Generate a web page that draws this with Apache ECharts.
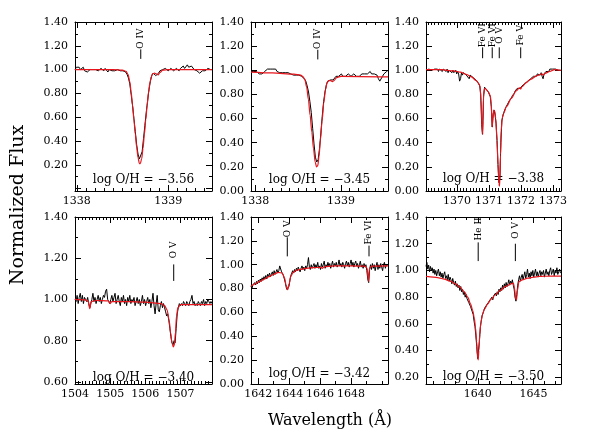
<!DOCTYPE html>
<html>
<head>
<meta charset="utf-8">
<title>O/H fits</title>
<script src="https://cdn.jsdelivr.net/npm/echarts@6/dist/echarts.min.js"></script>
<style>
  html, body { margin: 0; padding: 0; background: #fff; }
  #chart { width: 612px; height: 447px; }
</style>
</head>
<body>
<div id="chart"></div>
<script>
// ---- data ----
// observed spectra: first wavelength, pixel step, normalized flux
var p1ObsStart = 1337.98, p1ObsStep = 0.015;
var p1Obs = [1.00,1.02,1.01,1.02,1.00,1.01,1.02,0.99,1.00,0.98,
  0.99,1.00,1.01,1.00,1.01,1.00,1.01,0.99,1.00,1.01,
  1.00,0.99,1.01,1.00,0.98,1.00,1.01,0.99,1.00,0.99,
  0.98,1.00,0.99,0.99,0.98,0.99,0.99,0.98,0.96,0.93,
  0.88,0.79,0.70,0.59,0.48,0.37,0.29,0.25,0.26,0.31,
  0.42,0.53,0.64,0.74,0.83,0.90,0.95,0.97,0.96,0.95,
  0.96,0.97,0.99,0.99,1.00,1.00,1.01,1.00,0.99,1.00,
  1.01,1.00,0.99,1.00,1.01,1.00,0.99,1.01,1.02,1.03,
  1.01,1.02,1.04,1.02,1.01,1.03,1.02,1.00,1.01,0.99,
  0.98,0.97,0.98,0.99,1.00,0.99,1.00,1.01,1.00,1.00,
  1.00];
var p1Model = [[1337.98,1.00],[1338.40,1.00],[1338.50,0.995],[1338.54,0.985],[1338.56,0.96],
  [1338.58,0.90],[1338.595,0.81],[1338.61,0.70],[1338.625,0.58],[1338.64,0.46],[1338.655,0.35],
  [1338.67,0.26],[1338.685,0.21],[1338.695,0.21],[1338.71,0.25],[1338.725,0.34],[1338.74,0.46],
  [1338.755,0.58],[1338.77,0.70],[1338.785,0.81],[1338.80,0.89],[1338.815,0.94],[1338.83,0.965],
  [1338.85,0.97],[1338.87,0.965],[1338.89,0.955],[1338.91,0.975],[1338.94,0.995],[1339.0,1.00],[1339.48,1.00]];

var p2ObsStart = 1337.95, p2ObsStep = 0.016;
var p2Obs = [0.99,0.98,0.99,0.98,0.99,0.98,0.97,0.98,0.97,0.98,
  0.99,1.00,1.01,1.00,1.01,1.02,1.01,1.00,1.01,0.99,
  1.00,0.98,0.99,0.98,0.97,0.98,0.97,0.98,0.97,0.97,
  0.98,0.96,0.97,0.96,0.97,0.96,0.96,0.95,0.94,0.93,
  0.91,0.87,0.82,0.74,0.65,0.52,0.39,0.28,0.24,0.26,
  0.35,0.48,0.62,0.74,0.82,0.88,0.91,0.92,0.92,0.91,
  0.92,0.93,0.95,0.96,0.95,0.96,0.97,0.95,0.96,0.95,
  0.96,0.97,0.96,0.95,0.96,0.97,0.96,0.95,0.96,0.95,
  0.96,0.97,0.96,0.97,0.96,0.97,0.98,0.99,0.97,0.96,
  0.97,0.98,0.96,0.93,0.91,0.92,0.95,0.97,0.98,0.99,
  1.00];
var p2Model = [[1337.95,0.985],[1338.2,0.978],[1338.45,0.968],[1338.53,0.96],[1338.56,0.945],
  [1338.58,0.92],[1338.60,0.86],[1338.62,0.76],[1338.64,0.63],[1338.66,0.49],[1338.68,0.35],
  [1338.70,0.24],[1338.715,0.20],[1338.73,0.21],[1338.745,0.29],[1338.76,0.42],[1338.78,0.58],
  [1338.80,0.73],[1338.82,0.84],[1338.84,0.90],[1338.86,0.915],[1338.88,0.915],[1338.90,0.905],
  [1338.92,0.915],[1338.95,0.94],[1339.0,0.95],[1339.55,0.945]];

var p3ObsStart = 1369.03, p3ObsStep = 0.03;
var p3Obs = [1.00,1.01,0.99,1.01,1.00,1.02,1.00,1.01,0.99,1.01,
  1.02,1.00,1.01,0.99,1.01,1.02,1.00,0.99,1.01,1.00,
  1.02,0.99,1.01,0.98,1.00,0.99,1.01,0.98,1.00,0.98,
  0.99,1.00,0.97,0.99,0.97,0.91,0.93,0.98,0.96,0.98,
  0.97,0.99,0.96,0.97,0.95,0.93,0.96,0.95,0.96,0.94,
  0.95,0.93,0.92,0.91,0.90,0.89,0.87,0.80,0.55,0.47,
  0.78,0.86,0.85,0.84,0.83,0.82,0.80,0.78,0.70,0.53,
  0.64,0.67,0.63,0.56,0.42,0.22,0.07,0.10,0.40,0.58,
  0.62,0.65,0.66,0.69,0.70,0.72,0.73,0.75,0.76,0.77,
  0.79,0.80,0.81,0.83,0.82,0.85,0.84,0.86,0.85,0.84,
  0.87,0.88,0.87,0.89,0.90,0.89,0.91,0.92,0.91,0.93,
  0.92,0.94,0.95,0.94,0.96,0.95,0.97,0.96,0.98,0.96,
  0.98,0.95,0.93,0.97,0.98,0.99,0.98,1.00,0.99,1.01,
  1.00,1.02,1.01,1.00,1.02,1.01,1.00,1.01,1.00,0.99,
  1.00];
var p3Model = [[1369.03,1.005],[1369.5,1.005],[1369.9,0.995],[1370.1,0.985],[1370.3,0.965],
  [1370.45,0.945],[1370.6,0.915],[1370.68,0.89],[1370.72,0.87],[1370.75,0.75],[1370.79,0.47],
  [1370.81,0.58],[1370.83,0.80],[1370.86,0.85],[1370.9,0.845],[1370.98,0.82],[1371.04,0.79],
  [1371.07,0.72],[1371.10,0.53],[1371.12,0.60],[1371.15,0.67],[1371.18,0.66],[1371.21,0.60],
  [1371.25,0.42],[1371.28,0.22],[1371.31,0.06],[1371.325,0.04],[1371.34,0.10],[1371.36,0.30],
  [1371.38,0.50],[1371.41,0.60],[1371.45,0.64],[1371.55,0.70],[1371.7,0.77],[1371.85,0.83],
  [1371.95,0.855],[1371.99,0.845],[1372.03,0.865],[1372.15,0.895],[1372.3,0.925],[1372.5,0.955],
  [1372.65,0.97],[1372.7,0.96],[1372.75,0.975],[1372.9,0.99],[1373.05,1.005],[1373.25,1.00]];

var p4ObsStart = 1504.0, p4ObsStep = 0.03;
var p4Obs = [1.00,0.99,1.02,0.98,1.01,1.03,0.99,1.02,0.98,1.01,
  1.00,0.99,1.01,0.98,0.96,0.98,1.00,1.03,0.99,1.01,
  0.98,1.00,1.02,0.99,1.01,0.98,1.00,1.02,1.01,1.04,
  1.05,1.00,0.99,0.98,1.00,1.02,0.99,1.01,1.03,0.98,
  1.00,1.02,0.99,0.97,1.01,0.99,1.02,0.98,1.00,0.97,
  1.01,0.99,1.02,0.98,1.00,0.99,1.01,0.97,0.99,1.01,
  0.98,1.00,0.97,0.99,1.02,0.98,1.00,0.97,0.99,1.01,
  0.98,1.00,0.96,0.99,1.03,0.97,0.93,0.98,1.02,0.95,
  0.94,0.97,0.99,0.96,0.98,0.96,0.94,0.92,0.93,0.90,
  0.86,0.82,0.79,0.78,0.80,0.79,0.86,0.93,0.96,0.98,
  0.97,0.98,0.97,0.99,0.98,0.97,0.99,0.98,0.97,0.99,
  1.00,1.02,0.98,0.99,0.97,0.98,0.97,0.99,0.98,0.97,
  0.99,0.98,1.00,0.97,0.99,0.98,1.00,0.99,0.98,0.99,
  0.98];
var p4Model = [[1504.0,1.00],[1504.3,0.998],[1504.38,0.99],[1504.42,0.955],[1504.46,0.99],
  [1504.6,0.995],[1504.95,0.993],[1505.0,0.98],[1505.05,0.99],[1505.5,0.99],[1506.0,0.987],
  [1506.45,0.98],[1506.55,0.97],[1506.62,0.95],[1506.68,0.90],[1506.72,0.84],[1506.76,0.79],
  [1506.80,0.77],[1506.83,0.78],[1506.86,0.84],[1506.89,0.92],[1506.93,0.96],[1507.0,0.975],
  [1507.9,0.975]];

var p5ObsStart = 1641.53, p5ObsStep = 0.06;
var p5Obs = [0.82,0.80,0.83,0.82,0.85,0.83,0.86,0.84,0.87,0.85,
  0.88,0.86,0.89,0.87,0.90,0.88,0.91,0.88,0.92,0.90,
  0.93,0.90,0.92,0.94,0.91,0.95,0.92,0.94,0.96,0.93,
  0.95,0.99,1.00,0.94,0.93,0.91,0.88,0.85,0.81,0.79,
  0.78,0.82,0.87,0.91,0.93,0.95,0.93,0.96,0.94,0.97,
  0.95,0.98,0.96,0.94,0.97,0.99,0.96,0.98,0.95,0.99,
  0.97,1.00,1.06,0.98,0.96,1.00,0.97,0.99,1.01,0.97,
  1.00,0.98,1.02,0.97,0.99,0.96,1.01,0.98,1.00,1.03,
  0.97,1.00,0.98,1.02,0.99,1.01,0.97,1.00,1.03,0.98,
  1.01,0.99,1.02,0.98,1.00,1.04,0.99,1.01,0.98,1.02,
  1.00,0.97,1.01,1.03,0.99,1.02,0.98,1.01,1.04,0.99,
  1.02,0.98,1.01,1.03,0.99,1.01,0.97,1.00,1.03,0.98,
  1.00,0.97,1.01,0.98,1.00,0.95,0.88,0.85,0.96,1.00,
  0.96,1.01,0.97,1.00,0.95,0.99,1.02,0.96,1.00,0.97,
  1.01,0.98,0.95,1.00,1.02,0.97,1.00,0.99];
var p5Model = [[1641.53,0.82],[1641.8,0.84],[1642.1,0.86],[1642.4,0.88],[1642.7,0.90],
  [1643.0,0.92],[1643.3,0.935],[1643.55,0.93],[1643.7,0.89],[1643.8,0.83],[1643.9,0.79],
  [1644.0,0.84],[1644.1,0.90],[1644.25,0.935],[1644.5,0.955],[1645.0,0.968],[1645.5,0.975],
  [1646.05,0.978],[1646.15,0.97],[1646.25,0.982],[1646.5,0.986],[1647.0,0.99],[1648.0,0.99],
  [1648.9,0.988],[1649.05,0.97],[1649.13,0.86],[1649.2,0.97],[1649.35,0.988],[1650.4,0.99]];

var p6ObsStart = 1635.35, p6ObsStep = 0.08;
var p6Obs = [1.03,1.06,1.01,1.04,0.99,1.03,1.00,1.02,0.98,1.01,
  0.97,1.00,0.96,0.99,1.01,0.96,0.99,0.95,0.98,0.94,
  0.97,0.99,0.94,0.96,0.93,0.97,0.92,0.95,0.93,0.90,
  0.94,0.91,0.89,0.92,0.88,0.90,0.87,0.89,0.85,0.88,
  0.84,0.86,0.82,0.84,0.80,0.82,0.79,0.80,0.76,0.77,
  0.73,0.74,0.69,0.67,0.62,0.58,0.51,0.43,0.34,0.33,
  0.47,0.57,0.62,0.66,0.68,0.70,0.72,0.71,0.74,0.73,
  0.76,0.75,0.78,0.77,0.80,0.78,0.81,0.80,0.83,0.81,
  0.84,0.82,0.86,0.84,0.87,0.85,0.89,0.86,0.90,0.87,
  0.91,0.88,0.90,0.93,0.89,0.92,0.90,0.93,0.89,0.86,
  0.80,0.77,0.82,0.89,0.93,0.96,0.92,0.95,0.97,0.93,
  0.96,0.99,0.94,0.97,1.01,0.95,0.98,0.94,0.99,0.96,
  1.00,0.95,0.98,1.01,0.96,0.99,0.95,0.98,1.00,0.96,
  0.99,0.97,1.00,0.95,0.98,1.01,0.97,0.99,0.96,1.00,
  1.02,0.97,0.99,1.01,0.96,1.00,0.98,1.02,0.97,0.99,
  1.01,0.98];
var p6Model = [[1635.35,0.955],[1636,0.95],[1636.5,0.945],[1637,0.935],[1637.5,0.92],[1638,0.90],
  [1638.4,0.875],[1638.8,0.84],[1639.1,0.80],[1639.35,0.75],[1639.55,0.70],[1639.7,0.64],
  [1639.8,0.57],[1639.9,0.47],[1639.97,0.37],[1640.04,0.33],[1640.1,0.40],[1640.18,0.52],
  [1640.28,0.61],[1640.42,0.67],[1640.6,0.71],[1640.9,0.75],[1641.2,0.785],[1641.6,0.82],
  [1642.0,0.85],[1642.5,0.88],[1643.0,0.90],[1643.2,0.905],[1643.3,0.87],[1643.4,0.79],
  [1643.48,0.78],[1643.56,0.85],[1643.7,0.915],[1644.0,0.93],[1644.5,0.942],[1645.0,0.95],
  [1645.5,0.955],[1646.5,0.958],[1647.48,0.958]];

// line identifications: [wavelength, tick bottom, tick top, label centre]
var p1Lines = [[1338.70, 1.09, 1.17, 1.26]], p1LineNames = ['O IV'];
var p2Lines = [[1338.73, 1.09, 1.17, 1.26]], p2LineNames = ['O IV'];
var p3Lines = [[1370.80, 1.10, 1.19, 1.29], [1371.10, 1.10, 1.19, 1.29],
  [1371.32, 1.10, 1.19, 1.29], [1371.99, 1.10, 1.19, 1.29]];
var p3LineNames = ['Fe VI', 'Fe VI', 'O V', 'Fe V'];
var p4Lines = [[1506.81, 1.09, 1.17, 1.24]], p4LineNames = ['O V'];
var p5Lines = [[1643.88, 1.07, 1.23, 1.30], [1649.17, 1.07, 1.16, 1.27]];
var p5LineNames = ['O V', 'Fe VI'];
var p6Lines = [[1640.04, 1.07, 1.21, 1.31], [1643.38, 1.07, 1.20, 1.30]];
var p6LineNames = ['He II', 'O V'];

// abundances printed in each panel
var abundances = ['−3.56', '−3.45', '−3.38', '−3.40', '−3.42', '−3.50'];

// tick labels
var p1XTicks = [1338, 1339], p2XTicks = [1338, 1339];
var p3XTicks = [1370, 1371, 1372, 1373], p4XTicks = [1504, 1505, 1506, 1507];
var p5XTicks = [1642, 1644, 1646, 1648], p6XTicks = [1640, 1645];
var yTicksFull = [0.00, 0.20, 0.40, 0.60, 0.80, 1.00, 1.20, 1.40];
var yTicksFrom02 = [0.20, 0.40, 0.60, 0.80, 1.00, 1.20, 1.40];
var yTicksFrom06 = [0.60, 0.80, 1.00, 1.20, 1.40];

// ---- layout ----
var boxes = [
  {left: 75, top: 22, width: 137, height: 169},
  {left: 251, top: 22, width: 137, height: 169},
  {left: 426, top: 22, width: 135, height: 169},
  {left: 75, top: 217, width: 137, height: 167},
  {left: 251, top: 217, width: 137, height: 167},
  {left: 426, top: 217, width: 135, height: 167}
];
var noteY = [180, 180, 179, 378, 374, 377];

var panels = [
  {xMin: 1337.98, xMax: 1339.48, yMin: -0.02, yMax: 1.40, xTicks: p1XTicks, xMinor: 0.1, yTicks: yTicksFrom02,
   obs: p1Obs, start: p1ObsStart, step: p1ObsStep, model: p1Model, lines: p1Lines, names: p1LineNames},
  {xMin: 1337.95, xMax: 1339.55, yMin: 0, yMax: 1.40, xTicks: p2XTicks, xMinor: 0.1, yTicks: yTicksFull,
   obs: p2Obs, start: p2ObsStart, step: p2ObsStep, model: p2Model, lines: p2Lines, names: p2LineNames},
  {xMin: 1369.03, xMax: 1373.25, yMin: 0, yMax: 1.40, xTicks: p3XTicks, xMinor: 0.1, yTicks: yTicksFull,
   obs: p3Obs, start: p3ObsStart, step: p3ObsStep, model: p3Model, lines: p3Lines, names: p3LineNames},
  {xMin: 1504.0, xMax: 1507.9, yMin: 0.59, yMax: 1.40, xTicks: p4XTicks, xMinor: 0.1, yTicks: yTicksFrom06,
   obs: p4Obs, start: p4ObsStart, step: p4ObsStep, model: p4Model, lines: p4Lines, names: p4LineNames},
  {xMin: 1641.53, xMax: 1650.4, yMin: 0, yMax: 1.40, xTicks: p5XTicks, xMinor: 1, yTicks: yTicksFull,
   obs: p5Obs, start: p5ObsStart, step: p5ObsStep, model: p5Model, lines: p5Lines, names: p5LineNames},
  {xMin: 1635.35, xMax: 1647.48, yMin: 0.15, yMax: 1.40, xTicks: p6XTicks, xMinor: 1, yTicks: yTicksFrom02,
   obs: p6Obs, start: p6ObsStart, step: p6ObsStep, model: p6Model, lines: p6Lines, names: p6LineNames}
];

var FONT = '"DejaVu Serif", "Liberation Serif", serif';

// tick positions every `step` inside [min, max]
function stepTicks(min, max, step) {
  var out = [];
  for (var k = Math.ceil(min / step - 1e-6); k <= Math.floor(max / step + 1e-6); k++) {
    out.push(+(k * step).toFixed(4));
  }
  return out;
}

function axisSet(g, min, max, pos, major, minor, labels, isY) {
  var base = {gridIndex: g, type: 'value', min: min, max: max, position: pos,
    splitLine: {show: false}, axisPointer: {show: false}};
  var main = Object.assign({}, base, {
    axisLine: {show: true, onZero: false, lineStyle: {color: '#000', width: 1}},
    axisTick: {show: true, inside: true, length: 6, customValues: major, lineStyle: {color: '#000', width: 1}},
    axisLabel: labels ? {
      show: true, customValues: labels, color: '#000', fontFamily: FONT, fontSize: 11,
      margin: isY ? 7 : 5,
      formatter: function (v) { return isY ? v.toFixed(2) : String(Math.round(v)); }
    } : {show: false}
  });
  var sub = Object.assign({}, base, {
    axisLine: {show: false, onZero: false},
    axisTick: {show: true, inside: true, length: 3, customValues: minor, lineStyle: {color: '#000', width: 1}},
    axisLabel: {show: false}
  });
  return [main, sub];
}

var grid = [], xAxis = [], yAxis = [], series = [], graphic = [];

panels.forEach(function (p, g) {
  var b = boxes[g];
  grid.push({left: b.left, top: b.top, width: b.width, height: b.height, containLabel: false});

  var xMajor = p.xTicks.filter(function (v) { return v >= p.xMin && v <= p.xMax; });
  var xMinor = stepTicks(p.xMin, p.xMax, p.xMinor);
  var yMajor = stepTicks(p.yMin, p.yMax, 0.2);
  var yMinor = stepTicks(p.yMin, p.yMax, 0.1);

  xAxis = xAxis.concat(axisSet(g, p.xMin, p.xMax, 'bottom', xMajor, xMinor, xMajor, false),
                       axisSet(g, p.xMin, p.xMax, 'top', xMajor, xMinor, null, false));
  yAxis = yAxis.concat(axisSet(g, p.yMin, p.yMax, 'left', yMajor, yMinor, p.yTicks, true),
                       axisSet(g, p.yMin, p.yMax, 'right', yMajor, yMinor, null, true));

  var obsData = p.obs.map(function (f, i) { return [+(p.start + i * p.step).toFixed(3), f]; });

  series.push({
    type: 'line', xAxisIndex: 4 * g, yAxisIndex: 4 * g, data: obsData,
    showSymbol: false, symbol: 'none', clip: true, z: 2,
    lineStyle: {color: '#000', width: 1}
  });
  series.push({
    type: 'line', xAxisIndex: 4 * g, yAxisIndex: 4 * g, data: p.model,
    showSymbol: false, symbol: 'none', clip: true, z: 3,
    smooth: 0.3, smoothMonotone: 'x',
    lineStyle: {color: '#e8141b', width: 1.2}
  });
  series.push({
    type: 'custom', xAxisIndex: 4 * g, yAxisIndex: 4 * g, data: p.lines, z: 4,
    renderItem: function (params, api) {
      var x = api.value(0);
      var a = api.coord([x, api.value(1)]);
      var c = api.coord([x, api.value(2)]);
      var t = api.coord([x, api.value(3)]);
      return {type: 'group', children: [
        {type: 'line', shape: {x1: a[0], y1: a[1], x2: c[0], y2: c[1]}, style: {stroke: '#000', lineWidth: 1}},
        {type: 'text', x: t[0], y: t[1], rotation: Math.PI / 2,
         style: {text: p.names[params.dataIndex], fill: '#000', font: '9px ' + FONT,
                 align: 'center', verticalAlign: 'middle'}}
      ]};
    }
  });

  graphic.push({
    type: 'text', x: b.left + b.width / 2, y: noteY[g],
    style: {text: 'log O/H = ' + abundances[g], fill: '#000', font: '12px ' + FONT,
            align: 'center', verticalAlign: 'middle'}
  });
});

graphic.push({
  type: 'text', x: 18, y: 205, rotation: Math.PI / 2,
  style: {text: 'Normalized Flux', fill: '#000', font: '19px ' + FONT, align: 'center', verticalAlign: 'middle'}
});
graphic.push({
  type: 'text', x: 330, y: 421,
  style: {text: 'Wavelength (Å)', fill: '#000', font: '16px ' + FONT, align: 'center', verticalAlign: 'middle'}
});

var chart = echarts.init(document.getElementById('chart'), null, {renderer: 'canvas'});
chart.setOption({
  animation: false,
  backgroundColor: '#fff',
  grid: grid,
  xAxis: xAxis,
  yAxis: yAxis,
  series: series,
  graphic: graphic
});
</script>
</body>
</html>
